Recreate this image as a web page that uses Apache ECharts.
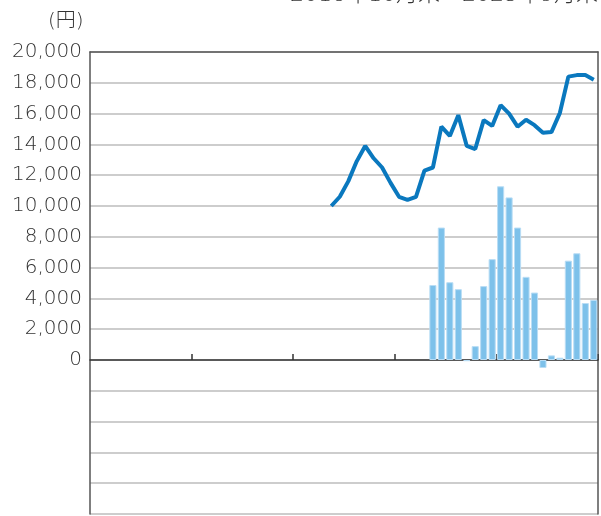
<!DOCTYPE html>
<html>
<head>
<meta charset="utf-8">
<script src="https://cdn.jsdelivr.net/npm/echarts@6/dist/echarts.min.js"></script>
<style>html,body{margin:0;padding:0;background:#fff}#c{width:601px;height:516px}</style>
</head>
<body>
<div id="c"></div>
<script>
// 60 months: 2018/10 .. 2023/9
var categories = [];
(function(){ var y=2018,m=10; for (var i=0;i<60;i++){ categories.push(y+'年'+m+'月'); m++; if(m>12){m=1;y++;} } })();

// line series (円), starts at index 28
var lineValues = [
  null,null,null,null,null,null,null,null,null,null,
  null,null,null,null,null,null,null,null,null,null,
  null,null,null,null,null,null,null,null,
  10000,10600,11600,12900,13900,13100,12500,11500,10600,10400,
  10600,12300,12500,15150,14550,15900,13900,13700,15580,15200,
  16550,16000,15150,15600,15250,14750,14800,16050,18400,18500,
  18500,18200
];

// bar series (円), starts at index 40
var barValues = [
  null,null,null,null,null,null,null,null,null,null,
  null,null,null,null,null,null,null,null,null,null,
  null,null,null,null,null,null,null,null,null,null,
  null,null,null,null,null,null,null,null,null,null,
  4870,8600,5050,4600,-80,900,4800,6550,11280,10560,
  8600,5400,4380,-520,300,150,6450,6930,3700,3900
];

var yTicks = {min:-10000, max:20000, interval:2000};
var unitLabel = '(円)';
var periodLabel = '2018年10月末～2023年9月末';

var FONT = '"DejaVu Sans", "Noto Sans CJK JP", sans-serif';
var chart = echarts.init(document.getElementById('c'), null, {renderer:'canvas'});
chart.setOption({
  animation:false,
  backgroundColor:'#fff',
  grid:{left:90, right:3, top:52, bottom:2, containLabel:false},
  xAxis:[{
    type:'category', data:categories, boundaryGap:true,
    axisLine:{onZero:true, lineStyle:{color:'#333', width:1.5}},
    axisTick:{show:true, inside:true, length:6, lineStyle:{color:'#333', width:1.5},
      interval:function(i){ return i>0 && i%12===0; }},
    axisLabel:{show:false}, splitLine:{show:false}
  },{
    type:'category', data:categories, position:'top', boundaryGap:true,
    axisLine:{onZero:false, lineStyle:{color:'#555', width:1.5}},
    axisTick:{show:false}, axisLabel:{show:false}
  }],
  yAxis:[{
    type:'value', min:yTicks.min, max:yTicks.max, interval:yTicks.interval,
    axisLine:{show:true, onZero:false, lineStyle:{color:'#555', width:1.5}},
    axisTick:{show:false},
    axisLabel:{color:'#333', fontSize:20, fontWeight:200, fontFamily:FONT, margin:8,
      formatter:function(v){ return v<0 ? '' : v.toLocaleString('en-US'); }},
    splitLine:{show:true, lineStyle:{color:'#bdbdbd', width:1.5}}
  },{
    type:'value', position:'right', min:yTicks.min, max:yTicks.max, interval:yTicks.interval,
    axisLine:{show:true, onZero:false, lineStyle:{color:'#555', width:1.5}},
    axisTick:{show:false}, axisLabel:{show:false}, splitLine:{show:false}
  }],
  graphic:[
    {type:'text', right:3, top:-16, style:{text:periodLabel, font:'200 22px '+FONT, fill:'#333'}},
    {type:'text', left:48, top:12, style:{text:unitLabel, font:'200 20px '+FONT, fill:'#333'}}
  ],
  series:[{
    type:'bar', data:barValues, barWidth:'84%',
    itemStyle:{color:'#7dc1ea', borderColor:'#b9ddf5', borderWidth:1},
    z:2
  },{
    type:'line', data:lineValues, showSymbol:false, symbol:'none',
    lineStyle:{color:'#0a78be', width:4}, itemStyle:{color:'#0a78be'},
    z:3
  }]
});
</script>
</body>
</html>
